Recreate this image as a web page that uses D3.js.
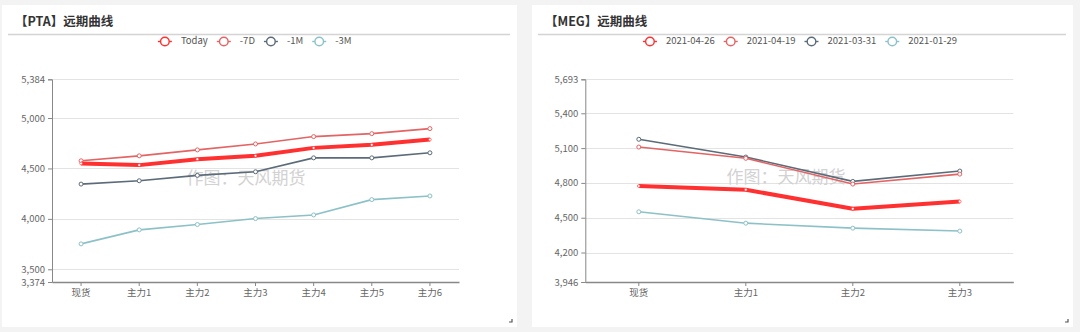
<!DOCTYPE html>
<html>
<head>
<meta charset="utf-8">
<script src="https://cdn.jsdelivr.net/npm/d3@7"></script>
<style>
  html, body { margin: 0; padding: 0; background: #f3f3f3; }
  svg { display: block; }
  text { font-family: "Noto Sans CJK SC", "Noto Sans", sans-serif; }
</style>
</head>
<body>
<svg id="chart" width="1080" height="332"></svg>
<script>
// ---------- DATA ----------
const ptaTitle = "【PTA】远期曲线";
const ptaCategories = ["现货", "主力1", "主力2", "主力3", "主力4", "主力5", "主力6"];
const ptaSeriesNames = ["Today", "-7D", "-1M", "-3M"];
const ptaToday = [4549, 4533, 4592, 4625, 4704, 4734, 4786];
const pta7D    = [4576, 4625, 4684, 4743, 4816, 4845, 4895];
const pta1M    = [4345, 4378, 4431, 4467, 4605, 4605, 4655];
const pta3M    = [3752, 3891, 3944, 4003, 4039, 4191, 4227];
const ptaYTicks = [3374, 3500, 4000, 4500, 5000, 5384];

const megTitle = "【MEG】远期曲线";
const megCategories = ["现货", "主力1", "主力2", "主力3"];
const megSeriesNames = ["2021-04-26", "2021-04-19", "2021-03-31", "2021-01-29"];
const meg0426 = [4773, 4741, 4577, 4640];
const meg0419 = [5109, 5012, 4790, 4876];
const meg0331 = [5176, 5023, 4813, 4902];
const meg0129 = [4551, 4453, 4410, 4385];
const megYTicks = [3946, 4200, 4500, 4800, 5100, 5400, 5693];

const watermark = "作图：天风期货";

// ---------- STYLE ----------
const seriesColors = ["#ff3030", "#e36464", "#5c6b79", "#8cc1c8"];
const seriesWidths = [4, 1.6, 1.6, 1.6];

const svg = d3.select("#chart");

function drawPanel(cfg) {
  const g = svg.append("g");
  // card
  g.append("rect").attr("x", cfg.card.x).attr("y", cfg.card.y)
    .attr("width", cfg.card.w).attr("height", cfg.card.h).attr("fill", "#fff");
  // title
  g.append("text").attr("x", cfg.card.x + 13).attr("y", 26)
    .attr("font-size", 12.5).attr("font-weight", "bold").attr("fill", "#333")
    .text(cfg.title);
  // separator
  g.append("line").attr("x1", cfg.card.x + 6).attr("x2", cfg.card.x + cfg.card.w - 7)
    .attr("y1", 34.5).attr("y2", 34.5).attr("stroke", "#d4d4d4").attr("stroke-width", 1.5);
  // corner mark
  const cx = cfg.card.x + cfg.card.w - 5, cy = cfg.card.y + cfg.card.h - 5;
  g.append("path").attr("d", `M${cx - 3},${cy} L${cx},${cy} L${cx},${cy - 3}`)
    .attr("fill", "none").attr("stroke", "#555").attr("stroke-width", 1.2);

  const x = d3.scaleBand().domain(cfg.categories).range([cfg.plot.l, cfg.plot.r]).padding(0);
  const xc = d => x(d) + x.bandwidth() / 2;
  const y = d3.scaleLinear().domain([cfg.yTicks[0], cfg.yTicks[cfg.yTicks.length - 1]])
    .range([cfg.plot.b, cfg.plot.t]);

  // gridlines
  g.append("g").selectAll("line").data(cfg.yTicks.slice(1)).join("line")
    .attr("x1", cfg.plot.l).attr("x2", cfg.plot.r)
    .attr("y1", d => Math.round(y(d)) + 0.5).attr("y2", d => Math.round(y(d)) + 0.5)
    .attr("stroke", "#e3e3e3").attr("stroke-width", 1);

  // y axis
  const yAxis = d3.axisLeft(y).tickValues(cfg.yTicks).tickSize(4).tickPadding(3)
    .tickFormat(d3.format(","));
  const ya = g.append("g").attr("transform", `translate(${cfg.plot.l},0)`).call(yAxis);
  ya.select(".domain").attr("stroke", "#888");
  ya.selectAll(".tick line").attr("stroke", "#888");
  ya.selectAll(".tick text").attr("fill", "#666").attr("font-size", 9.5)
    .attr("font-family", "'Noto Sans CJK SC', sans-serif");

  // x axis
  const xAxis = d3.axisBottom(x).tickSize(4).tickPadding(3).tickSizeOuter(0);
  const xa = g.append("g").attr("transform", `translate(0,${cfg.plot.b})`).call(xAxis);
  xa.select(".domain").attr("stroke", "#888").attr("stroke-width", 1.3);
  xa.selectAll(".tick line").attr("stroke", "#888");
  xa.selectAll(".tick text").attr("fill", "#666").attr("font-size", 9.5)
    .attr("font-family", "'Noto Sans CJK SC', sans-serif");

  // watermark
  g.append("text").attr("x", cfg.wm.x).attr("y", cfg.wm.y)
    .attr("text-anchor", "middle").attr("dominant-baseline", "middle")
    .attr("font-size", 17).attr("fill", "#d2d2d2").text(watermark);

  // series (draw back to front so Today is on top)
  const line = d3.line().x((d, i) => xc(cfg.categories[i])).y(d => y(d));
  for (let s = cfg.series.length - 1; s >= 0; s--) {
    const vals = cfg.series[s];
    g.append("path").datum(vals).attr("d", line).attr("fill", "none")
      .attr("stroke", seriesColors[s]).attr("stroke-width", seriesWidths[s])
      .attr("stroke-linejoin", "round");
    g.append("g").selectAll("circle").data(vals).join("circle")
      .attr("cx", (d, i) => xc(cfg.categories[i])).attr("cy", d => y(d))
      .attr("r", s === 0 ? 1.4 : 2).attr("fill", "#fff")
      .attr("stroke", seriesColors[s]).attr("stroke-width", s === 0 ? 0.6 : 1);
  }

  // legend
  const lg = g.append("g");
  const items = [];
  let xpos = 0;
  cfg.names.forEach((name, i) => {
    const it = lg.append("g");
    it.append("line").attr("x1", 0).attr("x2", 14).attr("y1", 0).attr("y2", 0)
      .attr("stroke", seriesColors[i]).attr("stroke-width", 1.4);
    it.append("circle").attr("cx", 7).attr("cy", 0).attr("r", 4.3)
      .attr("fill", "#fff").attr("stroke", seriesColors[i]).attr("stroke-width", 1.4);
    const t = it.append("text").attr("x", 23).attr("y", 0).attr("dominant-baseline", "middle")
      .attr("font-size", 9.5).attr("fill", "#555").text(name);
    const w = 23 + t.node().getComputedTextLength();
    it.attr("transform", `translate(${xpos},0)`);
    xpos += w + 9;
  });
  const total = xpos - 9;
  lg.attr("transform", `translate(${cfg.legendCx - total / 2},41.5)`);
}

drawPanel({
  card: { x: 2, y: 5, w: 515, h: 322 },
  plot: { l: 52, r: 459, t: 79.3, b: 282 },
  title: ptaTitle,
  categories: ptaCategories,
  series: [ptaToday, pta7D, pta1M, pta3M],
  names: ptaSeriesNames,
  yTicks: ptaYTicks,
  legendCx: 254.7,
  wm: { x: 246, y: 179 }
});

drawPanel({
  card: { x: 532, y: 5, w: 541, h: 322 },
  plot: { l: 585.3, r: 1013.3, t: 79.3, b: 282 },
  title: megTitle,
  categories: megCategories,
  series: [meg0426, meg0419, meg0331, meg0129],
  names: megSeriesNames,
  yTicks: megYTicks,
  legendCx: 800,
  wm: { x: 786, y: 178 }
});
</script>
</body>
</html>
